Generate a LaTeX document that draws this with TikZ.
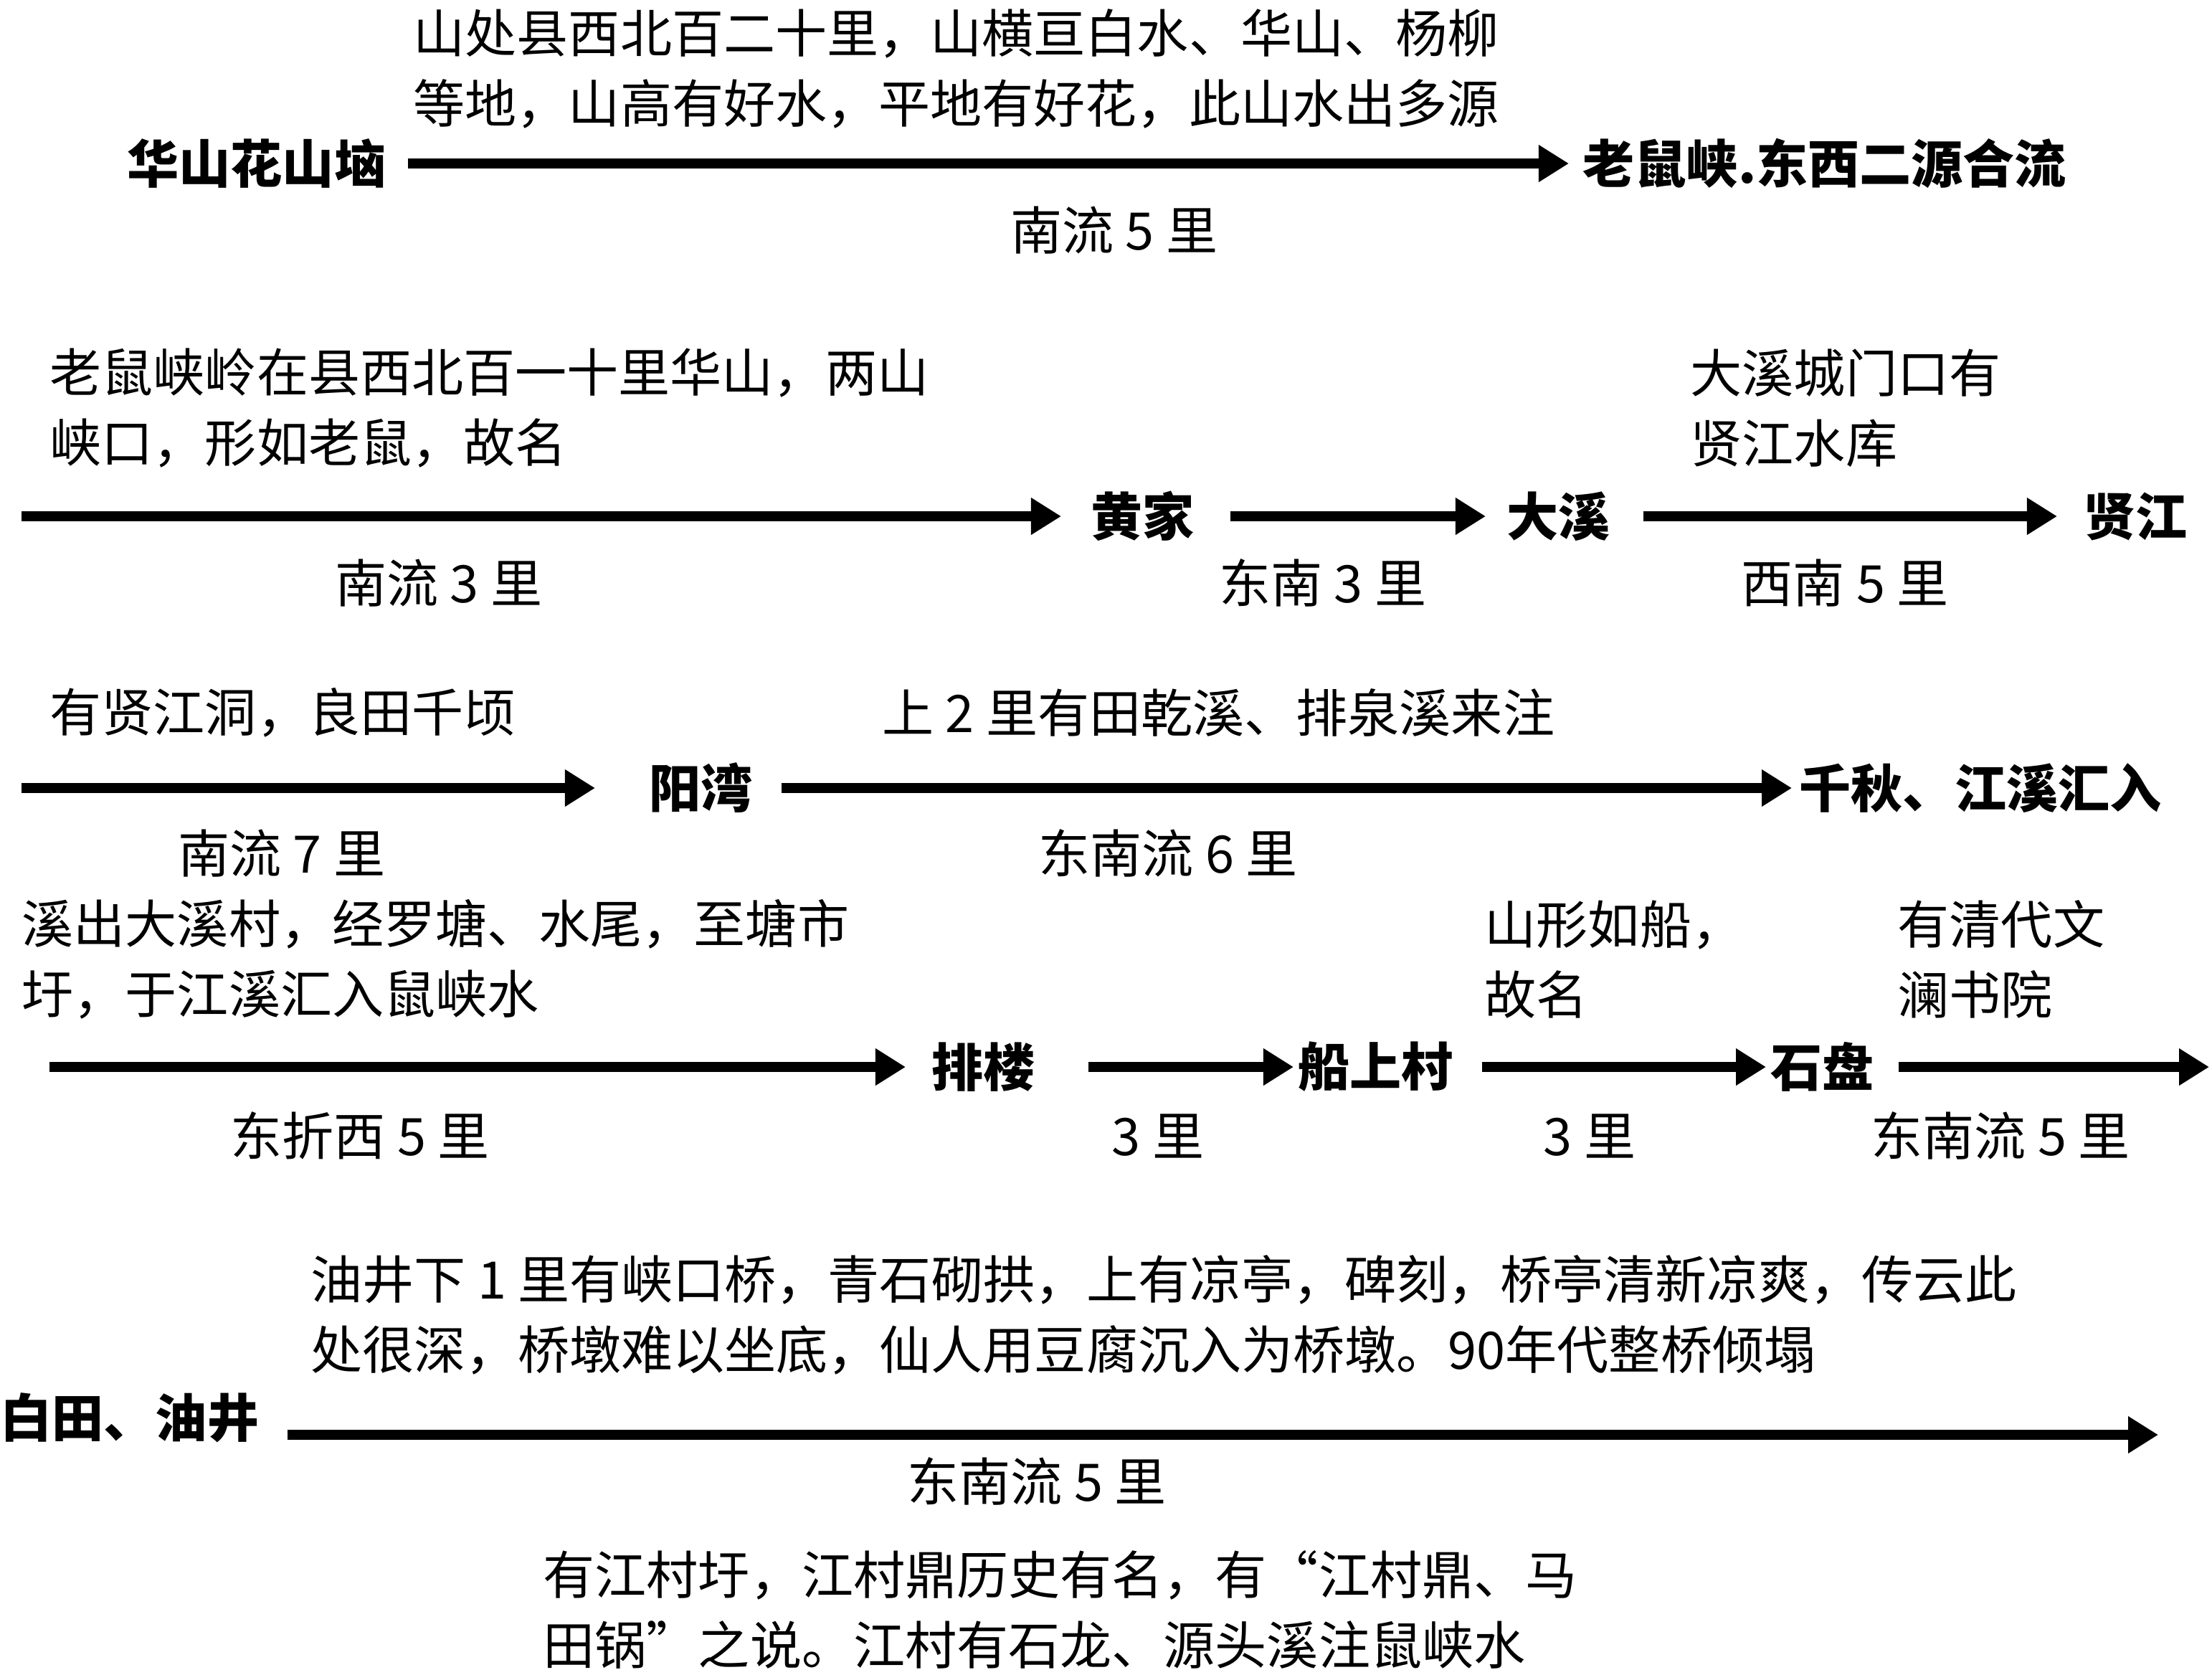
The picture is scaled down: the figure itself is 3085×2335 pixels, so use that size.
\documentclass[tikz,border=0pt]{standalone}
\usepackage{fontspec}
\setmainfont{Noto Sans CJK SC}
\usepackage{tikz}
\usetikzlibrary{arrows.meta}
\tikzset{
    place-box/.style = {inner sep=0pt, anchor=west, font=\fontsize{20.5pt}{28pt}\selectfont\bfseries},
    note-text/.style = {inner sep=0pt, align=left, anchor=west, font=\fontsize{20.5pt}{28pt}\selectfont},
    dist-text/.style = {inner sep=0pt, font=\fontsize{20.5pt}{28pt}\selectfont},
    flow-arrow/.style = {line width=4pt, -{Triangle[length=0.42cm, width=0.49cm]}},
}

\begin{document}
\begin{tikzpicture}[x=0.01cm, y=-0.01cm]
\useasboundingbox (0,0) rectangle (3085,2335);

\node[note-text] (note-huashan) at (576,96) {山处县西北百二十里，山横亘白水、华山、杨柳\\等地，山高有好水，平地有好花，此山水出多源};
\node[place-box] (huashan) at (177,228) {华山花山垴};
\node[place-box] (laoshuxia) at (2207,228) {老鼠峡.东西二源合流};
\node[dist-text] (dist-huashan) at (1554,321) {南流 5 里};
\draw[flow-arrow, shorten <=0.3cm, shorten >=0.19cm] (huashan) -- (laoshuxia);

\node[note-text] (note-laoshu) at (69,569) {老鼠峡岭在县西北百一十里华山，两山\\峡口，形如老鼠，故名};
\node[note-text] (note-daxi) at (2357,569) {大溪城门口有\\贤江水库};
\coordinate (r2start) at (30,720);
\node[place-box] (huangjia) at (1521,720) {黄家};
\node[place-box] (daxi) at (2101,720) {大溪};
\node[place-box] (xianjiang) at (2906,720) {贤江};
\node[dist-text] (dist-huangjia) at (612,813) {南流 3 里};
\node[dist-text] (dist-daxi) at (1845,813) {东南 3 里};
\node[dist-text] (dist-xianjiang) at (2573,813) {西南 5 里};
\draw[flow-arrow, shorten >=0.41cm] (r2start) -- (huangjia);
\draw[flow-arrow, shorten <=0.49cm, shorten >=0.29cm] (huangjia) -- (daxi);
\draw[flow-arrow, shorten <=0.45cm, shorten >=0.37cm] (daxi) -- (xianjiang);

\node[note-text] (note-xianjiang) at (69,994) {有贤江洞，良田千顷};
\node[note-text] (note-yangwan) at (1230,994) {上 2 里有田乾溪、排泉溪来注};
\coordinate (r3start) at (30,1099);
\node[place-box] (yangwan) at (905,1099) {阳湾};
\node[place-box] (qianqiu) at (2509,1099) {千秋、江溪汇入};
\node[dist-text] (dist-yangwan) at (393,1190) {南流 7 里};
\node[dist-text] (dist-qianqiu) at (1629,1190) {东南流 6 里};
\draw[flow-arrow, shorten >=0.75cm] (r3start) -- (yangwan);
\draw[flow-arrow, shorten <=0.39cm, shorten >=0.1cm] (yangwan) -- (qianqiu);

\node[note-text] (note-jiangxi) at (30,1338) {溪出大溪村，经罗塘、水尾，至塘市\\圩，于江溪汇入鼠峡水};
\node[note-text] (note-chuanshang) at (2070,1338) {山形如船，\\故名};
\node[note-text] (note-shipan) at (2646,1338) {有清代文\\澜书院};
\coordinate (r4start) at (69,1488);
\node[place-box] (pailou) at (1299,1488) {排楼};
\node[place-box] (chuanshang) at (1810,1488) {船上村};
\node[place-box] (shipan) at (2469,1488) {石盘};
\coordinate (r4end) at (3081,1488);
\node[dist-text] (dist-pailou) at (502,1584) {东折西 5 里};
\node[dist-text] (dist-chuanshang) at (1615,1584) {3 里};
\node[dist-text] (dist-shipan) at (2217,1584) {3 里};
\node[dist-text] (dist-end) at (2790,1584) {东南流 5 里};
\draw[flow-arrow, shorten >=0.36cm] (r4start) -- (pailou);
\draw[flow-arrow, shorten <=0.73cm, shorten >=0.06cm] (pailou) -- (chuanshang);
\draw[flow-arrow, shorten <=0.39cm, shorten >=0.06cm] (chuanshang) -- (shipan);
\draw[flow-arrow, shorten <=0.33cm] (shipan) -- (r4end);

\node[note-text] (note-youjing) at (433,1834) {油井下 1 里有峡口桥，青石砌拱，上有凉亭，碑刻，桥亭清新凉爽，传云此\\处很深，桥墩难以坐底，仙人用豆腐沉入为桥墩。90年代整桥倾塌};
\node[place-box] (baitian) at (0,1977) {白田、油井};
\coordinate (r5end) at (3010,2001);
\node[dist-text] (dist-baitian) at (1446,2066) {东南流 5 里};
\node[note-text] (note-jiangcun) at (757,2245) {有江村圩，江村鼎历史有名，有“江村鼎、马\\田锅”之说。江村有石龙、源头溪注鼠峡水};
\draw[flow-arrow, shorten <=0.39cm] (baitian.east |- r5end) -- (r5end);
\end{tikzpicture}
\end{document}
